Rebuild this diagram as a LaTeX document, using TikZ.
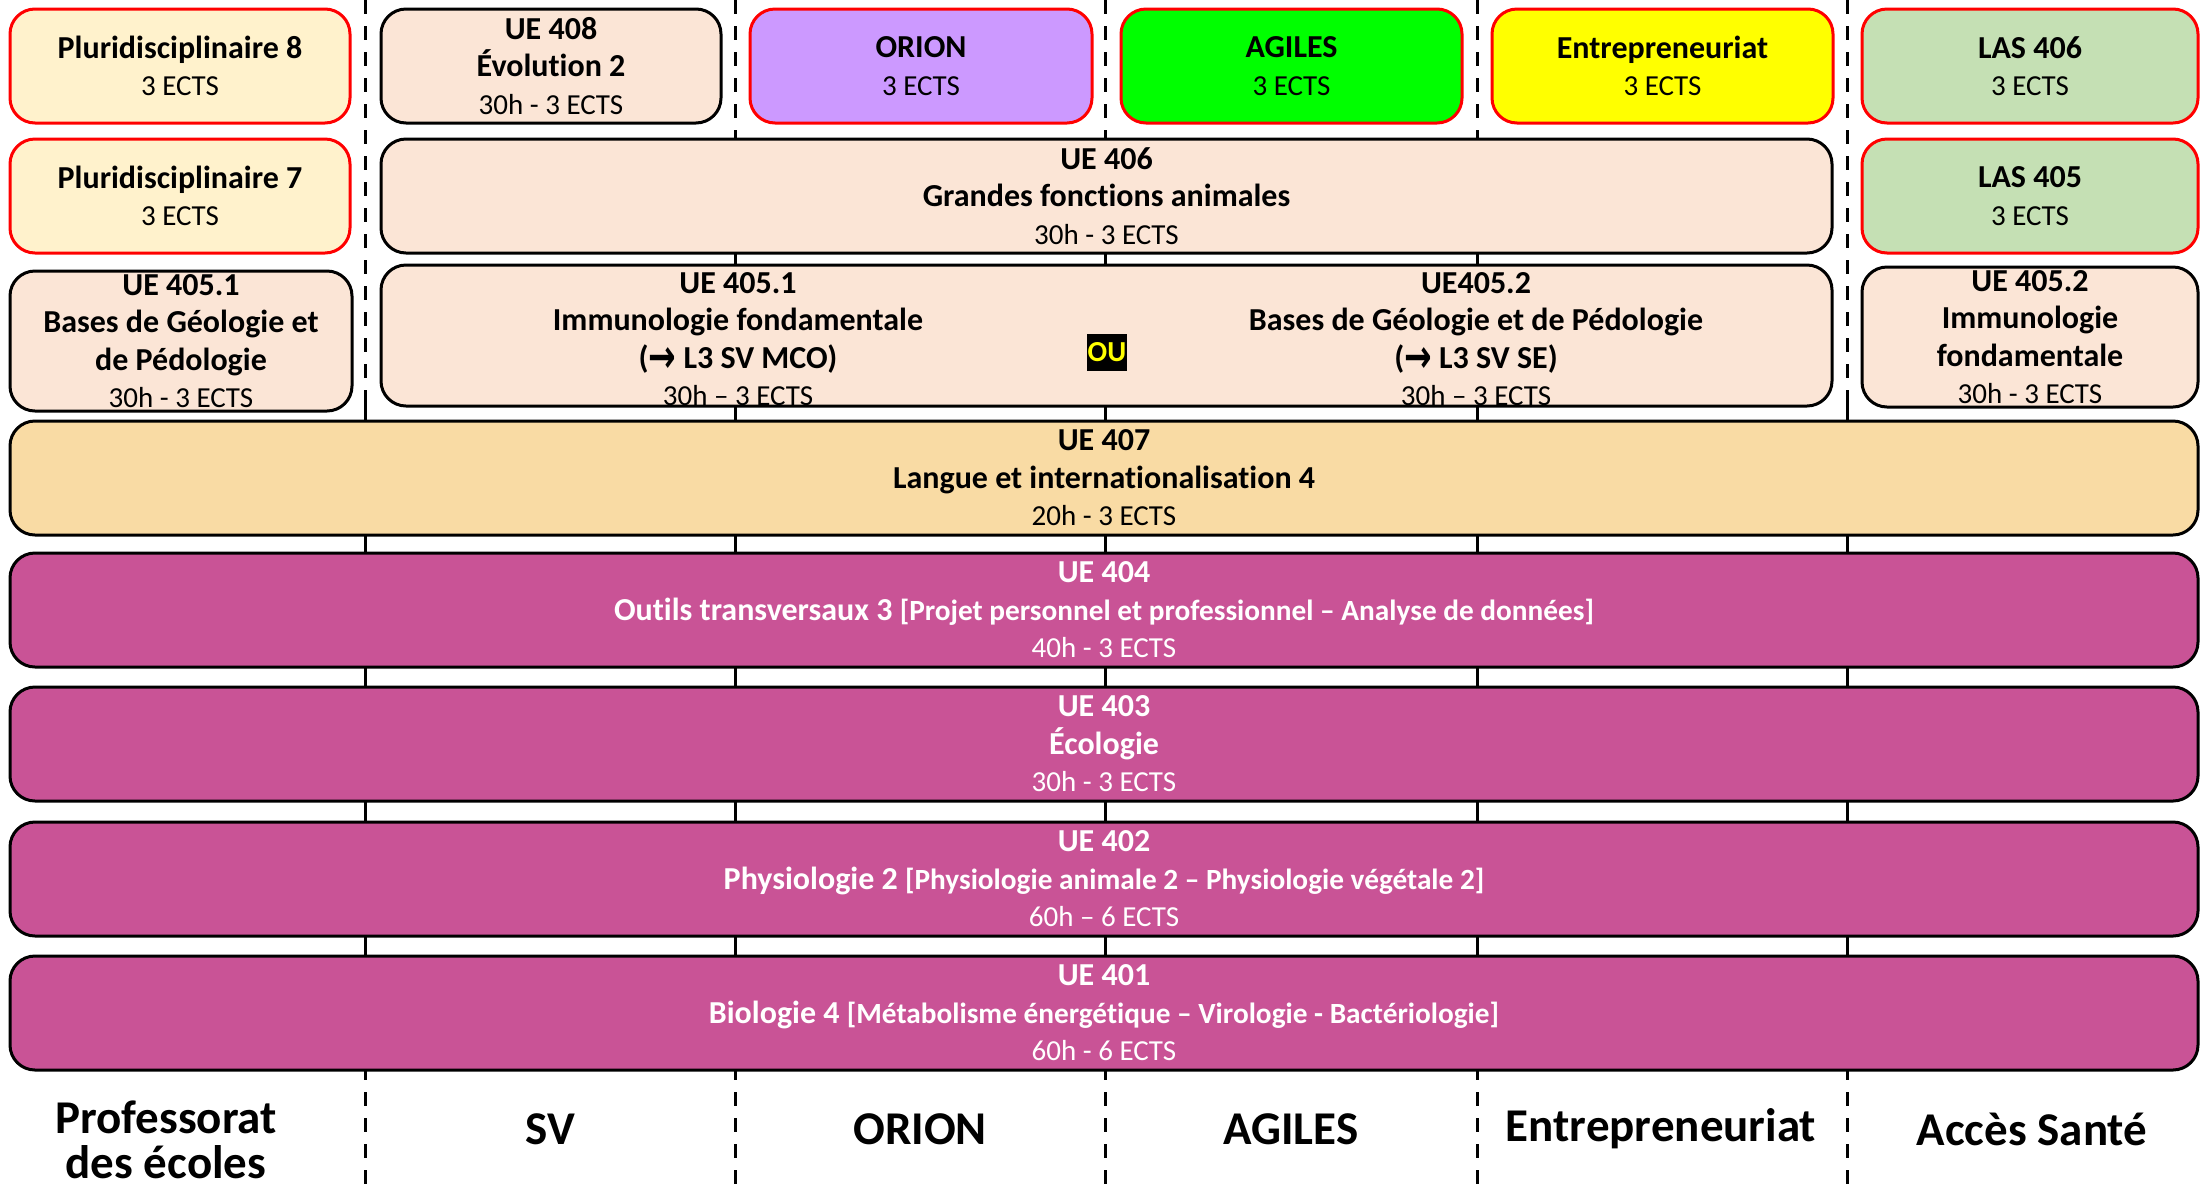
\documentclass[tikz,border=0pt]{standalone}
\usepackage{fontspec}
\setmainfont[Ligatures=NoCommon]{Carlito}
\newfontfamily\arrowfont{DejaVu Sans}
\definecolor{peach}{HTML}{FBE5D6}
\definecolor{pluri}{HTML}{FFF2CC}
\definecolor{las}{HTML}{C5E0B4}
\definecolor{orionc}{HTML}{CC99FF}
\definecolor{agilesc}{HTML}{00FF00}
\definecolor{entrec}{HTML}{FFFF00}
\definecolor{langc}{HTML}{F9DBA4}
\definecolor{magbar}{HTML}{C95396}
\newcommand\rl[1]{{\fontsize{29}{37.5}\selectfont\mdseries #1}}
\newcommand\smb[1]{{\fontsize{29.3}{37.5}\selectfont #1}}
\newcommand\arr{\raisebox{-4pt}{\scalebox{1}[1.4]{\arrowfont\bfseries\fontsize{33}{37.5}\selectfont →}}}
\tikzset{
  box/.style={draw=black, line width=3pt, rounded corners=25pt, inner sep=0pt, align=center,
              font=\fontsize{32}{37.5}\selectfont\bfseries},
  redbox/.style={box, draw=red},
  bar/.style={box, fill=magbar, text=white, minimum width=2188pt, minimum height=114pt},
  divdash/.style={line width=3pt, dash pattern=on 14pt off 12pt},
  divsolid/.style={line width=3pt},
  lab/.style={font=\fontsize{47}{45}\selectfont\bfseries, align=center, inner sep=0pt},
  txt/.style={inner sep=0pt, align=center, font=\fontsize{32}{37.5}\selectfont\bfseries},
}
\begin{document}
\begin{tikzpicture}[x=1pt,y=1pt]
\useasboundingbox (0,0) rectangle (2200,-1187);
\fill[white] (0,0) rectangle (2200,-1187);
% dividers
\foreach \xx/\nm in {365/a,735/b,1105/c,1477/d,1847/e}{
  \coordinate (top\nm) at (\xx,0);
  \coordinate (bot\nm) at (\xx,-1187);
  \draw[divdash] (top\nm) -- (bot\nm);
}
\coordinate (sa1) at (365,-400); \coordinate (sa2) at (365,-1072);
\coordinate (sb1) at (735,-250); \coordinate (sb2) at (735,-1072);
\coordinate (sc1) at (1105,-250); \coordinate (sc2) at (1105,-1072);
\coordinate (sd1) at (1477,-250); \coordinate (sd2) at (1477,-1072);
\coordinate (se1) at (1847,-400); \coordinate (se2) at (1847,-1072);
\draw[divsolid] (sa1) -- (sa2);
\draw[divsolid] (sb1) -- (sb2);
\draw[divsolid] (sc1) -- (sc2);
\draw[divsolid] (sd1) -- (sd2);
\draw[divsolid] (se1) -- (se2);
% row 1
\node[redbox, fill=pluri, minimum width=340pt, minimum height=114pt] (pluri8) at (180,-66)
  {Pluridisciplinaire 8\\\rl{3 ECTS}};
\node[box, fill=peach, minimum width=340pt, minimum height=114pt] (ue408) at (551,-66)
  {UE 408\\Évolution 2\\\rl{30h - 3 ECTS}};
\node[redbox, fill=orionc, minimum width=342pt, minimum height=114pt] (orion) at (921,-66)
  {ORION\\\rl{3 ECTS}};
\node[redbox, fill=agilesc, minimum width=341pt, minimum height=114pt] (agiles) at (1291.5,-66)
  {AGILES\\\rl{3 ECTS}};
\node[redbox, fill=entrec, minimum width=341pt, minimum height=114pt] (entre) at (1662.5,-66)
  {Entrepreneuriat\\\rl{3 ECTS}};
\node[redbox, fill=las, minimum width=336pt, minimum height=114pt] (las406) at (2030,-66)
  {LAS 406\\\rl{3 ECTS}};
% row 2
\node[redbox, fill=pluri, minimum width=340pt, minimum height=114pt] (pluri7) at (180,-196)
  {Pluridisciplinaire 7\\\rl{3 ECTS}};
\node[box, fill=peach, minimum width=1451pt, minimum height=114pt] (ue406) at (1106.5,-196)
  {UE 406\\Grandes fonctions animales\\\rl{30h - 3 ECTS}};
\node[redbox, fill=las, minimum width=336pt, minimum height=114pt] (las405) at (2030,-196)
  {LAS 405\\\rl{3 ECTS}};
% row 3
\node[box, fill=peach, minimum width=342pt, minimum height=140pt] (ue4051) at (181,-341)
  {UE 405.1\\Bases de Géologie et\\de Pédologie\\\rl{30h - 3 ECTS}};
\node[box, fill=peach, minimum width=1451pt, minimum height=141pt] (ue405) at (1106.5,-335.5) {};
\node[txt] (ue405l) at (738,-339)
  {UE 405.1\\Immunologie fondamentale\\(\arr\ L3 SV MCO)\\\rl{30h – 3 ECTS}};
\node[txt] (ue405r) at (1476,-339)
  {UE405.2\\Bases de Géologie et de Pédologie\\(\arr\ L3 SV SE)\\\rl{30h – 3 ECTS}};
\node[fill=black, text=entrec, inner sep=0pt, minimum width=40pt, minimum height=37pt,
      font=\fontsize{29}{30}\selectfont\bfseries] (ou) at (1107,-352) {OU};
\node[box, fill=peach, minimum width=336pt, minimum height=140pt] (ue4052) at (2030,-337)
  {UE 405.2\\Immunologie\\fondamentale\\\rl{30h - 3 ECTS}};
% bars
\node[box, fill=langc, minimum width=2188pt, minimum height=114pt] (ue407) at (1104,-478)
  {UE 407\\Langue et internationalisation 4\\\rl{20h - 3 ECTS}};
\node[bar] (ue404) at (1104,-610)
  {UE 404\\Outils transversaux 3 \smb{[Projet personnel et professionnel – Analyse de données]}\\\rl{40h - 3 ECTS}};
\node[bar] (ue403) at (1104,-744)
  {UE 403\\Écologie\\\rl{30h - 3 ECTS}};
\node[bar] (ue402) at (1104,-879)
  {UE 402\\Physiologie 2 \smb{[Physiologie animale 2 – Physiologie végétale 2]}\\\rl{60h – 6 ECTS}};
\node[bar] (ue401) at (1104,-1013)
  {UE 401\\Biologie 4 \smb{[Métabolisme énergétique – Virologie - Bactériologie]}\\\rl{60h - 6 ECTS}};
% bottom labels
\node[lab] (lpe) at (166,-1140) {Professorat\\des écoles};
\node[lab] (lsv) at (550,-1129) {SV};
\node[lab] (lor) at (920,-1129) {ORION};
\node[lab] (lag) at (1291,-1129) {AGILES};
\node[lab] (len) at (1661,-1129) {Entrepreneuriat};
\node[lab] (las) at (2032,-1129) {Accès Santé};
\end{tikzpicture}
\end{document}
